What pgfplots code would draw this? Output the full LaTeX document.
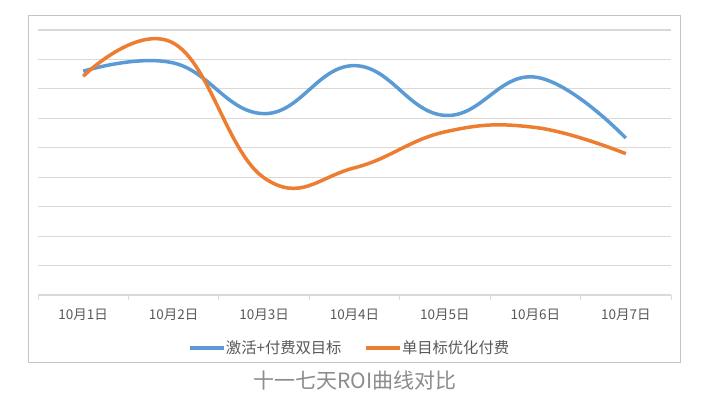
\documentclass[border=0pt]{standalone}
\usepackage{fontspec}
\setmainfont{Noto Sans CJK SC}
\usepackage{pgfplots}
\pgfplotsset{compat=1.18}
\definecolor{exblue}{HTML}{5B9BD5}
\definecolor{exorange}{HTML}{ED7D31}
\definecolor{gridc}{HTML}{D9D9D9}
\definecolor{framec}{HTML}{C4C4C4}
\definecolor{txt}{HTML}{595959}
\definecolor{capc}{HTML}{8C8C8C}
\begin{document}
\begin{tikzpicture}[x=1pt,y=1pt]
\fill[white] (0,0) rectangle (701,396);
\draw[framec, line width=1pt] (28,33) rectangle (680,380);
\begin{axis}[
  at={(38pt,101pt)}, anchor=south west,
  scale only axis, width=633pt, height=265pt,
  xmin=0.5, xmax=7.5, ymin=0, ymax=9,
  axis x line*=bottom, axis y line*=left,
  x axis line style={draw=gridc, line width=1.2pt, -},
  y axis line style={draw=none},
  xtick={1,...,7},
  xticklabels={10月1日,10月2日,10月3日,10月4日,10月5日,10月6日,10月7日},
  major x tick style={draw=none},
  minor xtick={0.5,1.5,...,7.5},
  minor x tick style={draw=gridc, line width=1pt},
  minor tick length=5pt,
  tick align=outside,
  xticklabel style={font=\fontsize{13.5}{15}\selectfont, text=txt, yshift=-6pt},
  ytick={1,...,9}, yticklabels={}, ymajorgrids,
  major y tick style={draw=none},
  y grid style={gridc, line width=1.2pt},
  clip=false,
  legend columns=2,
  legend style={draw=none, fill=none, at={(0.491,-0.2)}, anchor=center,
    font=\fontsize{15.3}{17}\selectfont, text=txt,
    nodes={inner sep=0.5pt},
    /tikz/every even column/.append style={column sep=22pt}},
  legend image code/.code={\draw[#1, line width=3.5pt] (0pt,0pt) -- (34pt,0pt);},
]
\addplot[exblue, line width=3.5pt, smooth, tension=0.72] coordinates {
 (1,7.60) (2,7.88) (3,6.16) (4,7.79) (5,6.10) (6,7.40) (7,5.33)};
\addlegendentry{激活+付费双目标}
\addplot[exorange, line width=3.5pt, smooth, tension=0.72] coordinates {
 (1,7.43) (2,8.55) (3,3.98) (4,4.32) (5,5.54) (6,5.69) (7,4.80)};
\addlegendentry{单目标优化付费}
\end{axis}
\node[text=capc, font=\fontsize{21}{23}\selectfont] at (355,16) {十一七天ROI曲线对比};
\end{tikzpicture}
\end{document}
